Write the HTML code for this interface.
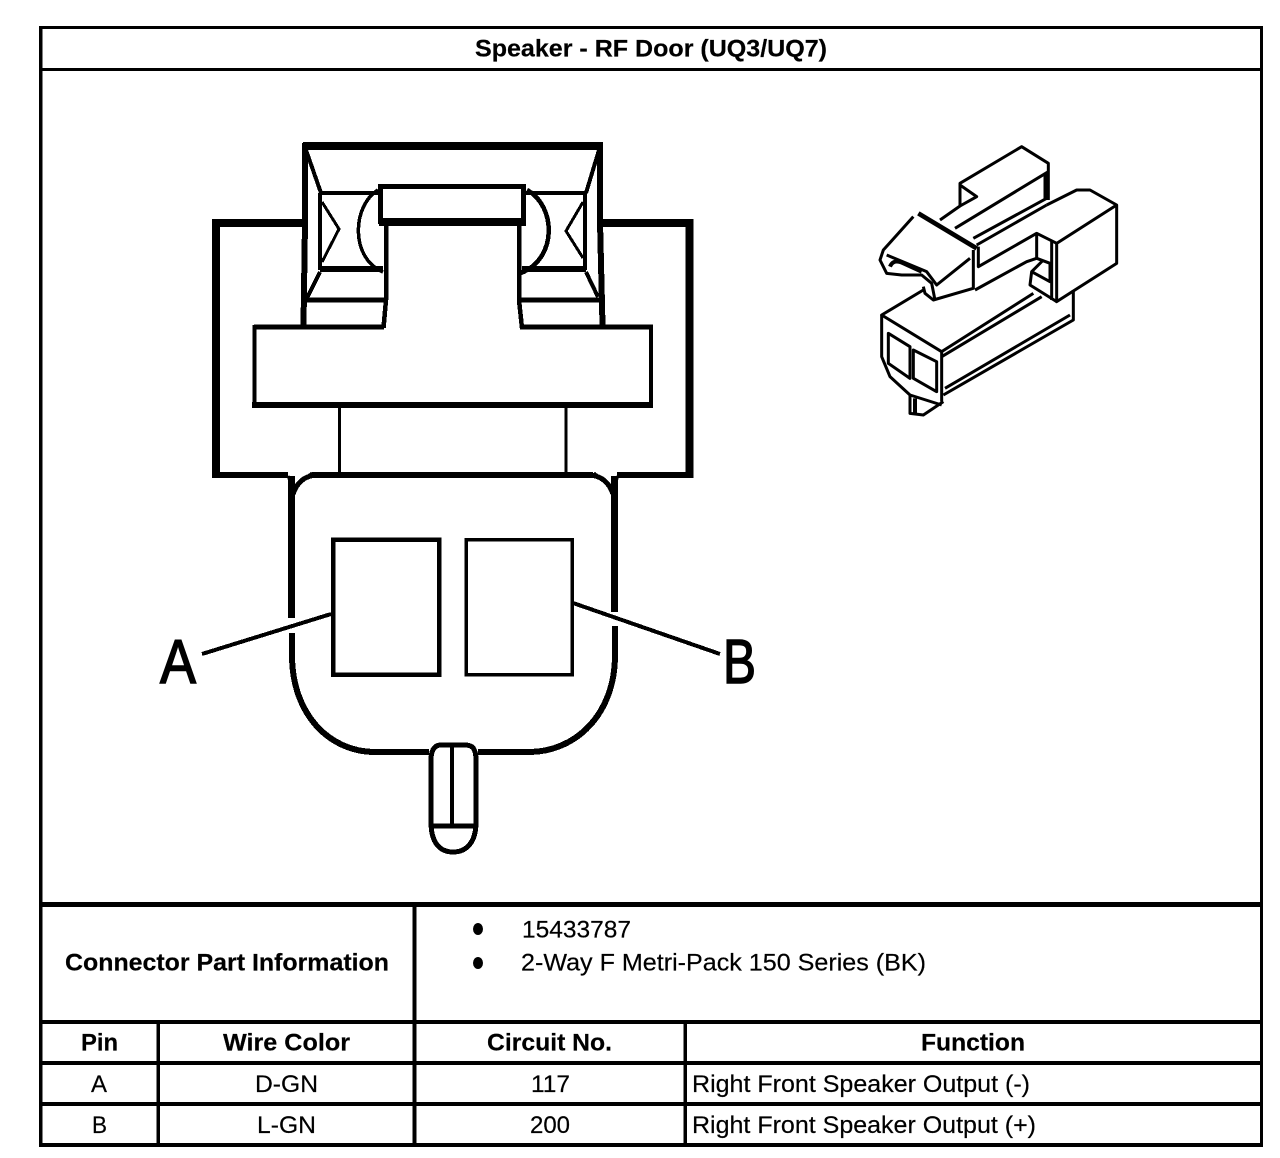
<!DOCTYPE html>
<html><head><meta charset="utf-8"><style>
html,body{margin:0;padding:0;background:#fff;width:1280px;height:1158px;overflow:hidden}
svg{display:block}
text{font-family:"Liberation Sans",sans-serif;font-size:24.500px;fill:#000;stroke:#000;stroke-width:.2}
.b{font-weight:bold}
</style></head><body>
<svg width="1280" height="1158" viewBox="0 0 1280 1158" xmlns="http://www.w3.org/2000/svg">
<rect width="1280" height="1158" fill="#fff"/>
<!-- table frame -->
<g fill="#000" shape-rendering="crispEdges">
<rect x="39" y="26" width="3.500" height="1121"/>
<rect x="1260" y="26" width="3" height="1121"/>
<rect x="39" y="26" width="1224" height="3"/>
<rect x="39" y="68" width="1224" height="3"/>
<rect x="39" y="902" width="1224" height="5"/>
<rect x="39" y="1020" width="1224" height="4"/>
<rect x="39" y="1061" width="1224" height="4"/>
<rect x="39" y="1102" width="1224" height="4"/>
<rect x="39" y="1143" width="1224" height="4"/>
<rect x="412.500" y="902" width="4" height="245"/>
<rect x="156.500" y="1020" width="3.500" height="127"/>
<rect x="683.500" y="1020" width="3.500" height="127"/>
</g>
<!-- main connector -->
<g fill="none" stroke="#000" stroke-linejoin="miter" stroke-linecap="butt" shape-rendering="crispEdges">
<path d="M216 478V223H304" stroke-width="8"/>
<path d="M601 223H689.500V478" stroke-width="8"/>
<path d="M303 146H603" stroke-width="8"/>
<path d="M305 143V222L303.500 325" stroke-width="6"/>
<path d="M600 143V222L602.500 325" stroke-width="6"/>
<path d="M212 475H288M312 475H593M617 475H693" stroke-width="6"/>
<path d="M306 150L321 193M599 150L586 193" stroke-width="4"/>
<path d="M320 193V270M585 193V270" stroke-width="4"/>
<path d="M320 193H380M526 193H586" stroke-width="4"/>
<path d="M320 269H383M522 269H586" stroke-width="6"/>
<path d="M322 202L339 229L322 262" stroke-width="3"/>
<path d="M583 202L566 231L583 258" stroke-width="3"/>
<path d="M320 272L307 298M586 272L598 297" stroke-width="4"/>
<path d="M305 300H386M519 300H601" stroke-width="5"/>
<path d="M378 190C352 206 350 258 383 272" stroke-width="3.500"/>
<path d="M527 190C556 206 558 258 521 273" stroke-width="4.500"/>
<rect x="380.500" y="186.500" width="143" height="35" stroke-width="5"/>
<path d="M379 222H526" stroke-width="8"/>
<path d="M386 225V300L383.500 328" stroke-width="4.500"/>
<path d="M519 225V300L522 328" stroke-width="4.500"/>
<path d="M254 327H384M520 327H653" stroke-width="5"/>
<path d="M254.500 325V408M651 325V408" stroke-width="4"/>
<path d="M252 405H653" stroke-width="6"/>
<path d="M339.500 408V475M566 408V475" stroke-width="3"/>
<path d="M291.500 618V476" stroke-width="7"/>
<path d="M614.500 612V476" stroke-width="7"/>
<path d="M293 494C297 482 305 476 316 475M613 494C609 482 601 476 590 475" stroke-width="5"/>
<path d="M288 476L293 488L298 484L312 473M618 476L613 488L608 484L594 473" stroke-width="3"/>
<path d="M292 633V655C292 715 330 752 375 752H429" stroke-width="6"/>
<path d="M615 626V655C615 715 575 752 529 752H478" stroke-width="6"/>
<rect x="333" y="539.500" width="106" height="135" stroke-width="4.500"/>
<rect x="466" y="539.500" width="106" height="135" stroke-width="3.500"/>
<path d="M202 654L331 614" stroke-width="4"/>
<path d="M573 603L720 654" stroke-width="4"/>
<path d="M431 822V760C431 748 436 745 441 745H465C472 745 476 748 476 760V822C476 843 466 852 453 852C440 852 431 843 431 822Z" stroke-width="5"/>
<path d="M452 745V827" stroke-width="4"/>
<path d="M430 826H477" stroke-width="5"/>
</g>
<text x="160" y="683" textLength="36" lengthAdjust="spacingAndGlyphs" style="font-size:62px;stroke-width:1.500">A</text>
<text x="723" y="683" textLength="33" lengthAdjust="spacingAndGlyphs" style="font-size:62px;stroke-width:1.500">B</text>
<!-- 3D view -->
<g transform="translate(860 130) scale(.33333)" fill="none" stroke="#000" stroke-width="9" stroke-linejoin="round">
<path d="M240 270L300 228V160L485 50L565 100V210"/>
<path d="M300 165L350 200L300 228"/>
<path d="M565 125L285 295"/>
<path d="M558 130V210" stroke-width="15"/>
<path d="M340 325L560 205M350 345L560 225"/>
<path d="M560 225L650 180H690L770 225V400L590 515V340L770 225"/>
<path d="M590 340L530 310L355 410V350"/>
<path d="M530 310V385M575 335V510"/>
<path d="M530 385L570 400V455L515 425L510 465L590 515"/>
<path d="M515 425L550 390"/>
<path d="M345 480L500 395L530 385"/>
<path d="M175 250L350 355" stroke-width="14"/>
<path d="M340 360V475L220 510L195 490L190 470"/>
<path d="M160 260L70 360L60 390L80 430L125 435H185L215 460L225 510"/>
<path d="M80 375L200 425L230 465L330 385"/>
<path d="M90 410Q100 385 130 400L185 425" stroke-width="12"/>
<path d="M190 480L65 555L245 665L520 490"/>
<path d="M245 680L545 500M640 480V570L250 795"/>
<path d="M245 665V815M255 775L630 555"/>
<path d="M65 555V680L90 740L150 795L245 825"/>
<path d="M85 610L150 650V745L85 700Z"/>
<path d="M160 660L230 695V785L160 745Z"/>
<path d="M150 795V850L190 855L250 815"/>
<path d="M165 805V850" stroke-width="12"/>
</g>
<!-- labels -->
<text class="b" x="475" y="56.500" textLength="352" lengthAdjust="spacingAndGlyphs">Speaker - RF Door (UQ3/UQ7)</text>
<text class="b" x="65" y="970.500" textLength="324" lengthAdjust="spacingAndGlyphs">Connector Part Information</text>
<ellipse cx="478" cy="929" rx="5" ry="6"/><ellipse cx="478" cy="963" rx="5" ry="6"/>
<text x="522" y="937.500" textLength="109" lengthAdjust="spacingAndGlyphs">15433787</text>
<text x="521" y="970.500" textLength="405" lengthAdjust="spacingAndGlyphs">2-Way F Metri-Pack 150 Series (BK)</text>
<text class="b" x="81" y="1050.500" textLength="37" lengthAdjust="spacingAndGlyphs">Pin</text>
<text class="b" x="223" y="1050.500" textLength="127" lengthAdjust="spacingAndGlyphs">Wire Color</text>
<text class="b" x="487" y="1050.500" textLength="125" lengthAdjust="spacingAndGlyphs">Circuit No.</text>
<text class="b" x="921" y="1050.500" textLength="104" lengthAdjust="spacingAndGlyphs">Function</text>
<text x="91" y="1092" textLength="16" lengthAdjust="spacingAndGlyphs">A</text>
<text x="255" y="1092" textLength="63" lengthAdjust="spacingAndGlyphs">D-GN</text>
<text x="531" y="1092" textLength="39" lengthAdjust="spacingAndGlyphs">117</text>
<text x="692" y="1092" textLength="338" lengthAdjust="spacingAndGlyphs">Right Front Speaker Output (-)</text>
<text x="92" y="1133" textLength="15" lengthAdjust="spacingAndGlyphs">B</text>
<text x="257" y="1133" textLength="59" lengthAdjust="spacingAndGlyphs">L-GN</text>
<text x="530" y="1133" textLength="40" lengthAdjust="spacingAndGlyphs">200</text>
<text x="692" y="1133" textLength="344" lengthAdjust="spacingAndGlyphs">Right Front Speaker Output (+)</text>
</svg>
</body></html>
